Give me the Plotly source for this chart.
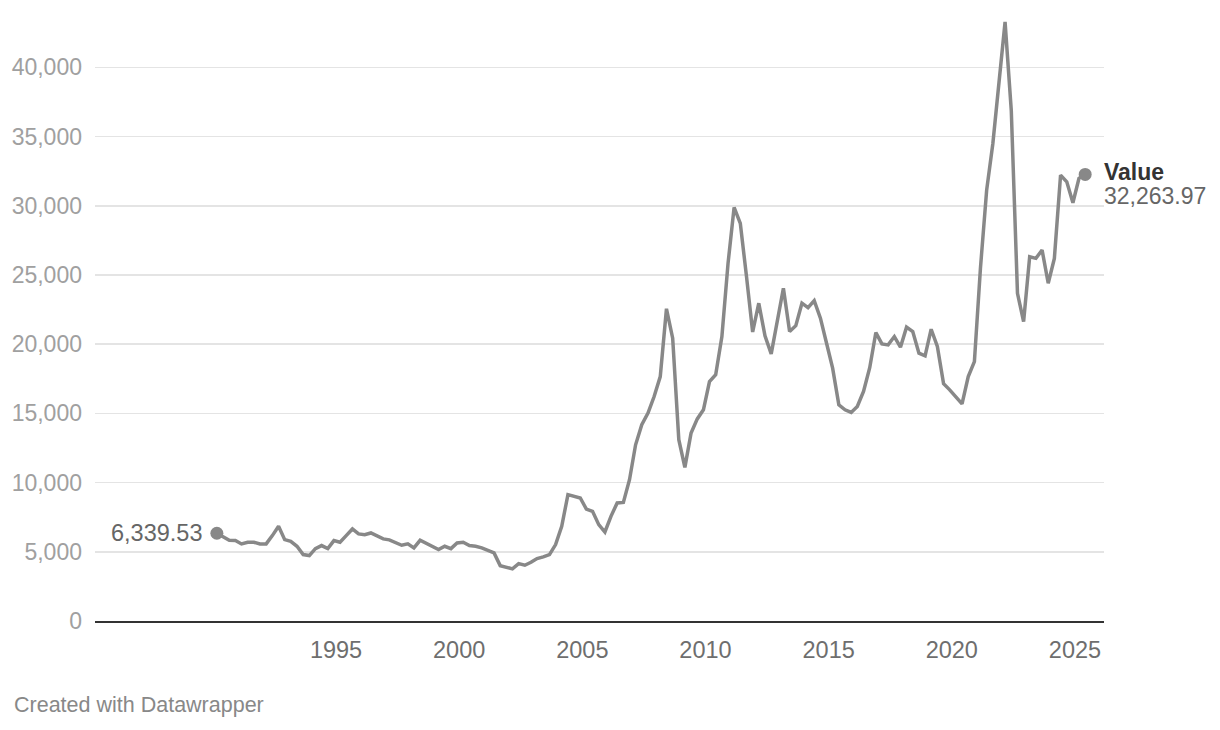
import plotly.graph_objects as go
import pandas as pd

# Quarterly values (Mar 1990 .. Jun 2025)
start_date = "1990-03-01"
values = [
    6339.53, 6075, 5830, 5810, 5570, 5690, 5690, 5570, 5570, 6170,
    6840, 5880, 5760, 5400, 4800, 4730, 5230, 5450, 5230, 5810,
    5690, 6170, 6650, 6290, 6240, 6360, 6170, 5930, 5860, 5690,
    5470, 5570, 5280, 5830, 5590, 5350, 5160, 5400, 5230, 5640,
    5690, 5450, 5400, 5280, 5110, 4920, 4000, 3910, 3770, 4150,
    4030, 4240, 4510, 4630, 4800, 5520, 6840, 9130, 9000, 8890,
    8090, 7920, 6960, 6430, 7560, 8530, 8570, 10210, 12730, 14180,
    15020, 16220, 17660, 22560, 20430, 13100, 11100, 13580, 14600, 15260,
    17300, 17790, 20550, 25840, 29880, 28730, 24880, 20880, 22960, 20600,
    19300, 21680, 24040, 20910, 21340, 22960, 22640, 23150, 21880, 20070,
    18270, 15620, 15260, 15070, 15500, 16580, 18300, 20840, 20020, 19950,
    20550, 19780, 21230, 20910, 19350, 19160, 21080, 19830, 17140, 16700,
    16220, 15690, 17660, 18740, 25500, 31130, 34500, 39140, 43280, 36900,
    23680, 21630, 26320, 26200, 26800, 24400, 26200, 32210, 31730, 30220,
    31980, 32263.97,
]
dates = pd.date_range(start_date, periods=len(values), freq="3MS")

series_name = "Value"
x_tick_years = [1995, 2000, 2005, 2010, 2015, 2020, 2025]
y_tick_vals = [0, 5000, 10000, 15000, 20000, 25000, 30000, 35000, 40000]

FONT = "Liberation Sans, Arial, Helvetica, sans-serif"
LINE = "#888888"

fig = go.Figure()
fig.add_trace(go.Scatter(
    x=dates, y=values, mode="lines",
    line=dict(color=LINE, width=3.5),
    hoverinfo="skip", showlegend=False,
))
fig.add_trace(go.Scatter(
    x=[dates[0], dates[-1]], y=[values[0], values[-1]], mode="markers",
    marker=dict(color=LINE, size=13),
    hoverinfo="skip", showlegend=False,
))

fig.add_annotation(
    x=dates[0], y=values[0], text=f"{values[0]:,.2f}",
    showarrow=False, xanchor="right", yanchor="middle", xshift=-13,
    font=dict(family=FONT, size=23.5, color="#666666"),
)
fig.add_annotation(
    xref="paper", x=1, y=values[-1], text=f"<b>{series_name}</b>",
    showarrow=False, xanchor="left", yanchor="middle", yshift=2, xshift=-2,
    font=dict(family=FONT, size=23, color="#333333"),
)
fig.add_annotation(
    xref="paper", x=1, y=values[-1], text=f"{values[-1]:,.2f}",
    showarrow=False, xanchor="left", yanchor="middle", yshift=-22, xshift=-2,
    font=dict(family=FONT, size=23, color="#666666"),
)
fig.add_annotation(
    xref="paper", yref="paper", x=-0.0823, y=-0.1385,
    text="Created with Datawrapper", showarrow=False,
    xanchor="left", yanchor="middle",
    font=dict(family=FONT, size=21.5, color="#888888"),
)

fig.update_layout(
    width=1220, height=730,
    margin=dict(l=95, r=116, t=11.5, b=108.5),
    paper_bgcolor="white", plot_bgcolor="white",
    font=dict(family=FONT),
    showlegend=False,
    hovermode=False,
    xaxis=dict(
        range=["1985-03-20", "2026-03-07"],
        tickvals=[f"{y}-01-01" for y in x_tick_years],
        ticktext=[str(y) for y in x_tick_years],
        showgrid=False, zeroline=False,
        showline=True, linecolor="#333333", linewidth=2,
        ticks="", ticklabelstandoff=7,
        tickfont=dict(family=FONT, size=23.5, color="#6e6e6e"),
    ),
    yaxis=dict(
        range=[0, 44000],
        tickvals=y_tick_vals,
        ticktext=[f"{v:,}" for v in y_tick_vals],
        showgrid=True, gridcolor="#e4e4e4", gridwidth=1.5,
        zeroline=False, showline=False,
        ticks="", ticklabelstandoff=12,
        tickfont=dict(family=FONT, size=23, color="#a0a0a0"),
    ),
)

fig.write_html(
    "out.html",
    config={"displayModeBar": False, "staticPlot": True},
    post_script="document.body.style.margin='0px';document.body.style.overflow='hidden';",
)
